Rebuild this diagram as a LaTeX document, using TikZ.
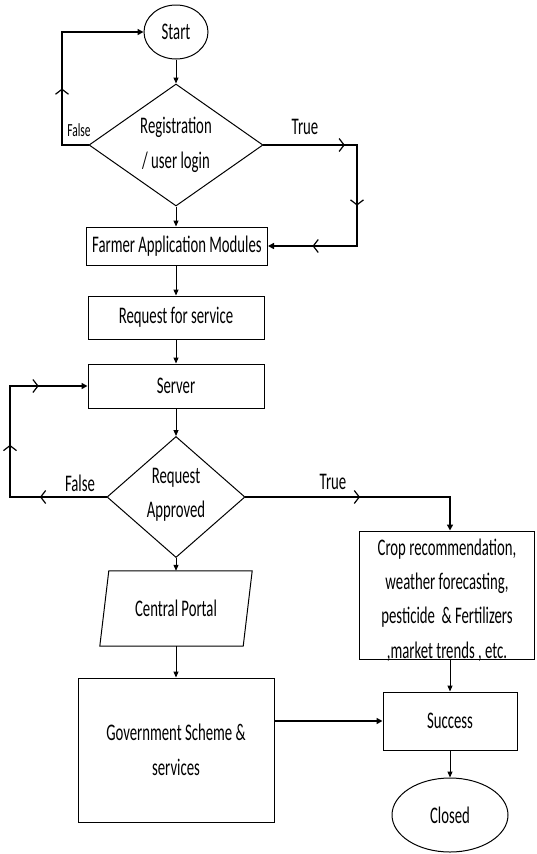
\documentclass[tikz,border=0pt]{standalone}
\usepackage{fontspec}
\setmainfont{Carlito}[FakeStretch=0.62]
\usetikzlibrary{arrows.meta,shapes.geometric,decorations.markings}
\begin{document}
\begin{tikzpicture}[x=1pt,y=-1pt,
  every node/.style={font=\fontsize{23.8}{34.5}\selectfont, align=center, inner sep=0pt},
  boxed/.style={draw, line width=1pt},
  conn/.style={line width=1pt, -{Triangle[length=6pt,width=5pt]}},
  loopline/.style={line width=1.8pt, line cap=rect},
  looparrow/.style={line width=1.8pt, line cap=rect, -{Triangle[length=6pt,width=6pt]}},
  chev/.style={postaction={decorate, decoration={markings,
      mark=at position #1 with {\arrow[line width=1.2pt]{Straight Barb[length=5pt,width=13pt]}}}}},
  smalllabel/.style={font=\fontsize{18.5}{22}\selectfont}
]
\useasboundingbox (0,0) rectangle (536,854);

% nodes
\node[boxed, ellipse, minimum width=64pt, minimum height=54pt] (start) at (176,32) {Start};
\node[boxed, diamond, minimum width=174pt, minimum height=122pt] (reg) at (176,145) {};
\node (regtxt) at (reg) {Registration\\/ user login};
\node[boxed, minimum width=181pt, minimum height=38pt] (farm) at (177,246) {Farmer Application Modules};
\node[boxed, minimum width=176pt, minimum height=43pt] (req) at (176,317.5) {Request for service};
\node[boxed, minimum width=176pt, minimum height=44pt] (server) at (176,386) {Server};
\node[boxed, diamond, minimum width=138pt, minimum height=121pt] (appr) at (176,497) {};
\node (apprtxt) at (176,495) {Request\\Approved};
\node[minimum width=143pt, minimum height=75pt] (portal) at (176,608.5) {Central Portal};
\draw[line width=1pt] ([xshift=4.5pt]portal.north west) -- ([xshift=4.5pt]portal.north east)
  -- ([xshift=-4.5pt]portal.south east) -- ([xshift=-4.5pt]portal.south west) -- cycle;
\node[boxed, minimum width=196pt, minimum height=144pt] (gov) at (176,750) {Government Scheme \&\\services};
\node[boxed, minimum width=175pt, minimum height=128pt] (crop) at (447,595) {};
\node (croptxt) at (447,600) {Crop recommendation,\\weather forecasting,\\pesticide \ \& Fertilizers\\,market trends , etc.};
\node[boxed, minimum width=134pt, minimum height=58pt] (succ) at (450,721) {Success};
\node[boxed, ellipse, minimum width=116pt, minimum height=74pt] (closed) at (450,815) {Closed};

% labels
\node[smalllabel] (lf1) at (79,130) {False};
\node (lt1) at (305,127) {True};
\node (lf2) at (80,483) {False};
\node (lt2) at (333,482) {True};

% straight connectors
\draw[conn] (start.south) -- (reg.north);
\draw[conn] (reg.south) -- (reg.south |- farm.north);
\draw[conn] (req.north |- farm.south) -- (req.north);
\draw[conn] (req.south) -- (server.north);
\draw[conn] (server.south) -- (appr.north);
\draw[conn] (appr.south) -- (portal.north);
\draw[conn] (portal.south) -- (gov.north);
\draw[conn] (succ.north |- crop.south) -- (succ.north);
\draw[conn] (succ.south) -- (closed.north);
\draw[looparrow] (gov.east |- succ.west) -- (succ.west);

% loop 1 false
\coordinate (f1) at (62,145);
\coordinate (f2) at (62,32);
\draw[loopline] (reg.west) -- (f1);
\draw[loopline, chev=0.5] (f1) -- (f2);
\draw[looparrow] (f2) -- (start.west);

% loop 1 true
\coordinate (t1) at (357,145);
\coordinate (t2) at (357,246);
\draw[loopline, chev=0.87] (reg.east) -- (t1);
\draw[loopline, chev=0.6] (t1) -- (t2);
\draw[looparrow, chev=0.5] (t2) -- (farm.east);

% loop 2 false
\coordinate (g1) at (10,497);
\coordinate (g2) at (10,386);
\draw[loopline, chev=0.69] (appr.west) -- (g1);
\draw[loopline, chev=0.47] (g1) -- (g2);
\draw[looparrow, chev=0.37] (g2) -- (server.west);

% loop 2 true
\coordinate (h1) at (450,497);
\draw[loopline, chev=0.56] (appr.east) -- (h1);
\draw[looparrow] (h1) -- (h1 |- crop.north);
\end{tikzpicture}
\end{document}
